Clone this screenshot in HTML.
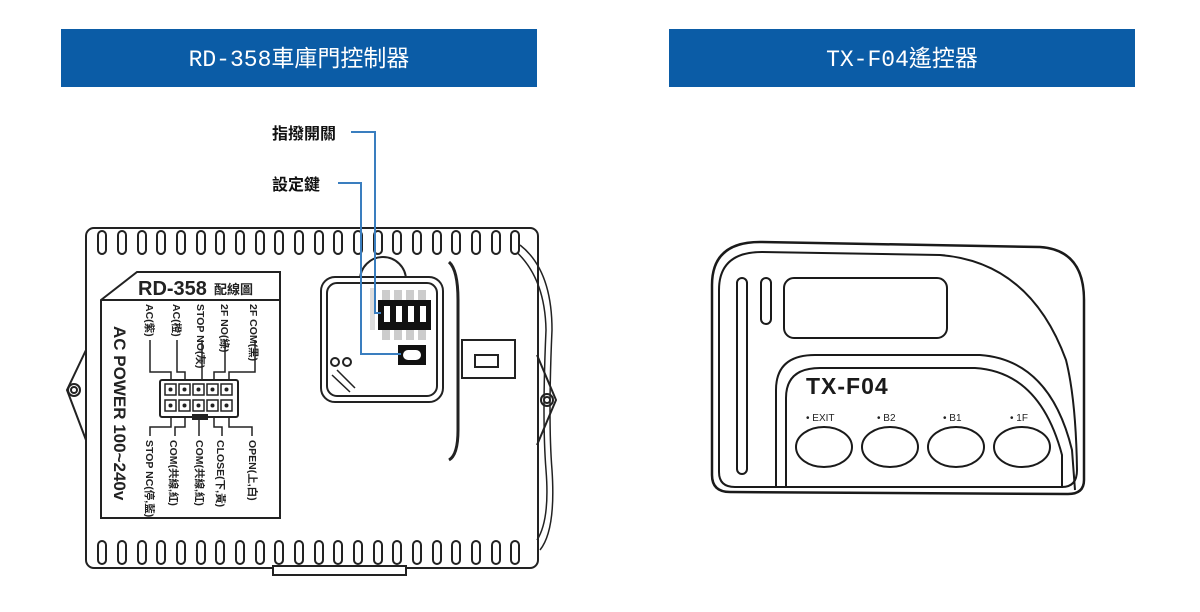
<!DOCTYPE html>
<html><head><meta charset="utf-8"><style>
html,body{margin:0;padding:0;background:#fff;width:1200px;height:612px;overflow:hidden}
svg{display:block}
text{font-family:"Liberation Sans","Noto Sans CJK TC",sans-serif}
text.hd{font-family:"Liberation Mono","Noto Sans CJK TC",monospace}
</style></head><body>
<svg width="1200" height="612" viewBox="0 0 1200 612" xmlns="http://www.w3.org/2000/svg">
<rect x="61" y="29" width="476" height="58" fill="#0b5ca6"/>
<rect x="669" y="29" width="466" height="58" fill="#0b5ca6"/>
<text class="hd" x="299" y="66" fill="#fff" font-size="23" text-anchor="middle">RD-358車庫門控制器</text>
<text class="hd" x="902" y="66" fill="#fff" font-size="23" text-anchor="middle">TX-F04遙控器</text>

<g stroke="#222" fill="none" stroke-width="2">
<rect x="86" y="228" width="452" height="340" rx="8" fill="#fff"/>
<path d="M86 350 L67 390 L86 440" /><circle cx="74" cy="390" r="6"/><circle cx="74" cy="390" r="3"/>
<path d="M537 355 L556 400 L537 445"/><circle cx="547" cy="400" r="6"/><circle cx="547" cy="400" r="3"/>
<path d="M520 245 Q552 270 552 330 Q548 420 552 470 Q556 530 540 550" stroke-width="1.5"/>
<path d="M512 248 Q545 275 546 330 Q542 420 546 470 Q550 520 537 540" stroke-width="1.5"/>
<rect x="273" y="566" width="133" height="9" fill="#fff"/>
</g>
<g stroke="#222" fill="#fff" stroke-width="2">
<g id="tt">
<rect x="98" y="231" width="8" height="23" rx="4"/><rect x="118" y="231" width="8" height="23" rx="4"/><rect x="138" y="231" width="8" height="23" rx="4"/><rect x="157" y="231" width="8" height="23" rx="4"/><rect x="177" y="231" width="8" height="23" rx="4"/><rect x="197" y="231" width="8" height="23" rx="4"/><rect x="216" y="231" width="8" height="23" rx="4"/><rect x="236" y="231" width="8" height="23" rx="4"/><rect x="256" y="231" width="8" height="23" rx="4"/><rect x="275" y="231" width="8" height="23" rx="4"/><rect x="295" y="231" width="8" height="23" rx="4"/><rect x="315" y="231" width="8" height="23" rx="4"/><rect x="334" y="231" width="8" height="23" rx="4"/><rect x="354" y="231" width="8" height="23" rx="4"/><rect x="374" y="231" width="8" height="23" rx="4"/><rect x="393" y="231" width="8" height="23" rx="4"/><rect x="413" y="231" width="8" height="23" rx="4"/><rect x="433" y="231" width="8" height="23" rx="4"/><rect x="452" y="231" width="8" height="23" rx="4"/><rect x="472" y="231" width="8" height="23" rx="4"/><rect x="492" y="231" width="8" height="23" rx="4"/><rect x="511" y="231" width="8" height="23" rx="4"/>
</g>
<use href="#tt" y="310"/>
</g>
<g stroke="#222" fill="none" stroke-width="2">
<path d="M101 300 L137 272 L280 272 L280 518 L101 518 Z"/>
<line x1="101" y1="300" x2="280" y2="300"/>
<rect x="160" y="380" width="78" height="37" rx="2"/>
<rect x="193" y="415" width="14" height="4" fill="#222"/>
</g>
<g fill="#fff" stroke="#222" stroke-width="1.5">
<rect x="165" y="384" width="11" height="11"/><rect x="179" y="384" width="11" height="11"/><rect x="193" y="384" width="11" height="11"/><rect x="207" y="384" width="11" height="11"/><rect x="221" y="384" width="11" height="11"/>
<rect x="165" y="400" width="11" height="11"/><rect x="179" y="400" width="11" height="11"/><rect x="193" y="400" width="11" height="11"/><rect x="207" y="400" width="11" height="11"/><rect x="221" y="400" width="11" height="11"/>
</g>
<g fill="#222"><circle cx="170.5" cy="389.5" r="2"/><circle cx="184.5" cy="389.5" r="2"/><circle cx="198.5" cy="389.5" r="2"/><circle cx="212.5" cy="389.5" r="2"/><circle cx="226.5" cy="389.5" r="2"/><circle cx="170.5" cy="405.5" r="2"/><circle cx="184.5" cy="405.5" r="2"/><circle cx="198.5" cy="405.5" r="2"/><circle cx="212.5" cy="405.5" r="2"/><circle cx="226.5" cy="405.5" r="2"/></g>
<g stroke="#222" fill="none" stroke-width="1.5">
<path d="M150 340 V372 H171 V380"/><path d="M177 340 V372 H185 V380"/><path d="M202 340 V380"/><path d="M225 340 V372 H214 V380"/><path d="M255 340 V372 H229 V380"/>
<path d="M150 436 V427 H171 V417"/><path d="M175 436 V427 H185 V417"/><path d="M199 436 V417"/><path d="M222 436 V427 H214 V417"/><path d="M252 436 V427 H229 V417"/>
</g>
<text x="138" y="295" font-size="20" font-weight="bold" fill="#222">RD-358</text>
<text x="214" y="294" font-size="13" font-weight="bold" fill="#222">配線圖</text>
<g font-size="10.5" font-weight="bold" fill="#222">
<text transform="translate(146,304) rotate(90)">AC(紫)</text>
<text transform="translate(173,304) rotate(90)">AC(橙)</text>
<text transform="translate(197,304) rotate(90)">STOP NO(灰)</text>
<text transform="translate(221,304) rotate(90)">2F NO(綠)</text>
<text transform="translate(250,304) rotate(90)">2F COM(黑)</text>
<text transform="translate(146,440) rotate(90)">STOP NC(停,藍)</text>
<text transform="translate(170,440) rotate(90)">COM(共線,紅)</text>
<text transform="translate(196,440) rotate(90)">COM(共線,紅)</text>
<text transform="translate(217,440) rotate(90)">CLOSE(下,黃)</text>
<text transform="translate(249,440) rotate(90)">OPEN(上,白)</text>
</g>
<text transform="translate(114,326) rotate(90)" font-size="17" font-weight="bold" fill="#222">AC POWER 100~240v</text>

<g stroke="#222" fill="none" stroke-width="2">
<path d="M360 280 A23 23 0 0 1 406 280"/>
<rect x="321" y="277" width="122" height="125" rx="14" fill="#fff"/>
<rect x="327" y="283" width="110" height="113" rx="10"/>
<path d="M332 375 L350 392 M337 370 L355 388" stroke-width="1.5"/>
<circle cx="335" cy="362" r="4"/><circle cx="347" cy="362" r="4"/>
<rect x="462" y="340" width="53" height="38" fill="#fff"/>
<rect x="475" y="355" width="23" height="12"/>
<path d="M449 262 Q458 270 458 300 L458 430 Q458 455 449 460" stroke-width="3"/>
</g>
<rect x="370" y="288" width="5" height="42" fill="#ddd"/>
<g fill="#ccc"><rect x="382" y="290" width="8" height="50"/><rect x="394" y="290" width="8" height="50"/><rect x="406" y="290" width="8" height="50"/><rect x="418" y="290" width="8" height="50"/></g>
<rect x="378" y="300" width="53" height="30" fill="#111"/>
<g fill="#fff"><rect x="384" y="306" width="6" height="16"/><rect x="396" y="306" width="6" height="16"/><rect x="408" y="306" width="6" height="16"/><rect x="420" y="306" width="6" height="16"/></g>
<rect x="398" y="345" width="28" height="20" fill="#111"/>
<rect x="403" y="350" width="18" height="10" rx="5" fill="#fff"/>

<g stroke="#3a7ebf" fill="none" stroke-width="2">
<path d="M351 132 H375 V313 H381"/>
<path d="M338 183 H361 V354 H401"/>
</g>
<text x="272" y="139" font-size="16" font-weight="bold" fill="#111">指撥開關</text>
<text x="272" y="190" font-size="16" font-weight="bold" fill="#111">設定鍵</text>

<g stroke="#1a1a1a" fill="none" stroke-width="2">
<path d="M730 492 Q712 492 712 475 L712 285 Q712 242 760 242 L1040 247 Q1084 250 1084 300 L1084 480 Q1084 494 1068 494 Z" stroke-width="2.5"/>
<path d="M735 487 Q719 487 719 472 L719 290 Q719 252 762 252 L940 255 Q1030 262 1066 360 Q1076 400 1077 470 Q1077 487 1062 487 Z"/>
<rect x="737" y="278" width="10" height="196" rx="5"/>
<rect x="761" y="278" width="10" height="46" rx="5"/>
<rect x="784" y="278" width="163" height="60" rx="10"/>
<path d="M776 488 L776 390 Q776 355 815 355 L980 355 Q1050 360 1072 450 L1075 490"/>
<path d="M786 487 L786 398 Q786 368 820 368 L975 368 Q1040 372 1062 455 L1062 487 Z"/>
<ellipse cx="824" cy="447" rx="28" ry="20"/>
<ellipse cx="890" cy="447" rx="28" ry="20"/>
<ellipse cx="956" cy="447" rx="28" ry="20"/>
<ellipse cx="1022" cy="447" rx="28" ry="20"/>
</g>
<text x="806" y="394" font-size="23" font-weight="bold" fill="#1a1a1a" letter-spacing="1">TX-F04</text>
<g font-size="10" fill="#222"><text x="806" y="421">• EXIT</text><text x="877" y="421">• B2</text><text x="943" y="421">• B1</text><text x="1010" y="421">• 1F</text></g>
</svg>
</body></html>
